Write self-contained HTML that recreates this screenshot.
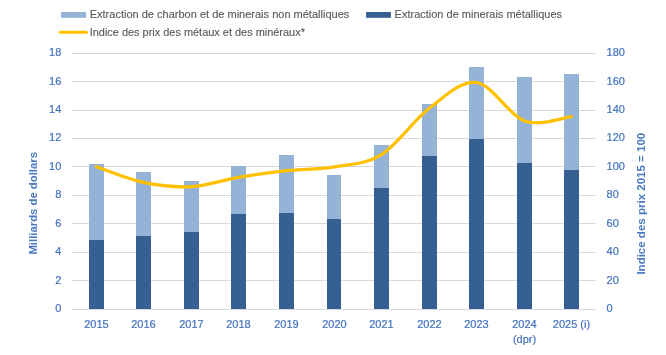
<!DOCTYPE html>
<html><head><meta charset="utf-8"><style>
html,body{margin:0;padding:0;background:#fff;width:666px;height:355px;overflow:hidden}
svg{display:block;will-change:transform}
text{font-family:"Liberation Sans",sans-serif}
.ax{font-size:11px;fill:#4271C0;stroke:#4271C0;stroke-width:0.2px}
.lg{font-size:10.3px;fill:#595959;stroke:#595959;stroke-width:0.12px}
.tt{font-size:10.6px;font-weight:bold;fill:#4A78C2}
</style></head><body>
<svg width="666" height="355" viewBox="0 0 666 355">
<rect width="666" height="355" fill="#fff"/>
<rect x="72" y="309" width="524" height="1" fill="#D9D9D9"/>
<rect x="72" y="280" width="524" height="1" fill="#D9D9D9"/>
<rect x="72" y="252" width="524" height="1" fill="#D9D9D9"/>
<rect x="72" y="223" width="524" height="1" fill="#D9D9D9"/>
<rect x="72" y="195" width="524" height="1" fill="#D9D9D9"/>
<rect x="72" y="166" width="524" height="1" fill="#D9D9D9"/>
<rect x="72" y="138" width="524" height="1" fill="#D9D9D9"/>
<rect x="72" y="110" width="524" height="1" fill="#D9D9D9"/>
<rect x="72" y="81" width="524" height="1" fill="#D9D9D9"/>
<rect x="72" y="53" width="524" height="1" fill="#D9D9D9"/>
<rect x="89" y="164" width="15" height="76" fill="#95B3D7"/>
<rect x="89" y="240" width="15" height="69" fill="#366092"/>
<rect x="136" y="172" width="15" height="64" fill="#95B3D7"/>
<rect x="136" y="236" width="15" height="73" fill="#366092"/>
<rect x="184" y="181" width="15" height="51" fill="#95B3D7"/>
<rect x="184" y="232" width="15" height="77" fill="#366092"/>
<rect x="231" y="166" width="15" height="48" fill="#95B3D7"/>
<rect x="231" y="214" width="15" height="95" fill="#366092"/>
<rect x="279" y="155" width="15" height="58" fill="#95B3D7"/>
<rect x="279" y="213" width="15" height="96" fill="#366092"/>
<rect x="327" y="175" width="14" height="44" fill="#95B3D7"/>
<rect x="327" y="219" width="14" height="90" fill="#366092"/>
<rect x="374" y="145" width="15" height="43" fill="#95B3D7"/>
<rect x="374" y="188" width="15" height="121" fill="#366092"/>
<rect x="422" y="104" width="15" height="52" fill="#95B3D7"/>
<rect x="422" y="156" width="15" height="153" fill="#366092"/>
<rect x="469" y="67" width="15" height="72" fill="#95B3D7"/>
<rect x="469" y="139" width="15" height="170" fill="#366092"/>
<rect x="517" y="77" width="15" height="86" fill="#95B3D7"/>
<rect x="517" y="163" width="15" height="146" fill="#366092"/>
<rect x="564" y="74" width="15" height="96" fill="#95B3D7"/>
<rect x="564" y="170" width="15" height="139" fill="#366092"/>
<path d="M96.50,166.70 C104.33,169.32 127.67,179.08 143.50,182.40 C159.33,185.72 175.67,187.45 191.50,186.60 C207.33,185.75 222.67,179.95 238.50,177.30 C254.33,174.65 270.50,172.45 286.50,170.70 C302.50,168.95 318.67,169.48 334.50,166.80 C350.33,164.12 365.67,164.38 381.50,154.60 C397.33,144.82 413.67,120.12 429.50,108.10 C445.33,96.08 460.67,80.37 476.50,82.50 C492.33,84.63 508.67,115.20 524.50,120.90 C540.33,126.60 563.67,117.40 571.50,116.70" fill="none" stroke="#FFC000" stroke-width="3.2" stroke-linecap="round" stroke-linejoin="round"/>
<text x="61.3" y="312.1" text-anchor="end" class="ax">0</text>
<text x="606.6" y="312.1" class="ax">0</text>
<text x="61.3" y="283.7" text-anchor="end" class="ax">2</text>
<text x="606.6" y="283.7" class="ax">20</text>
<text x="61.3" y="255.2" text-anchor="end" class="ax">4</text>
<text x="606.6" y="255.2" class="ax">40</text>
<text x="61.3" y="226.8" text-anchor="end" class="ax">6</text>
<text x="606.6" y="226.8" class="ax">60</text>
<text x="61.3" y="198.3" text-anchor="end" class="ax">8</text>
<text x="606.6" y="198.3" class="ax">80</text>
<text x="61.3" y="169.9" text-anchor="end" class="ax">10</text>
<text x="606.6" y="169.9" class="ax">100</text>
<text x="61.3" y="141.4" text-anchor="end" class="ax">12</text>
<text x="606.6" y="141.4" class="ax">120</text>
<text x="61.3" y="113.0" text-anchor="end" class="ax">14</text>
<text x="606.6" y="113.0" class="ax">140</text>
<text x="61.3" y="84.5" text-anchor="end" class="ax">16</text>
<text x="606.6" y="84.5" class="ax">160</text>
<text x="61.3" y="56.1" text-anchor="end" class="ax">18</text>
<text x="606.6" y="56.1" class="ax">180</text>
<text x="96.5" y="327.8" text-anchor="middle" class="ax">2015</text>
<text x="143.5" y="327.8" text-anchor="middle" class="ax">2016</text>
<text x="191.5" y="327.8" text-anchor="middle" class="ax">2017</text>
<text x="238.5" y="327.8" text-anchor="middle" class="ax">2018</text>
<text x="286.5" y="327.8" text-anchor="middle" class="ax">2019</text>
<text x="334.5" y="327.8" text-anchor="middle" class="ax">2020</text>
<text x="381.5" y="327.8" text-anchor="middle" class="ax">2021</text>
<text x="429.5" y="327.8" text-anchor="middle" class="ax">2022</text>
<text x="476.5" y="327.8" text-anchor="middle" class="ax">2023</text>
<text x="524.5" y="327.8" text-anchor="middle" class="ax">2024</text>
<text x="571.5" y="327.8" text-anchor="middle" class="ax">2025 (i)</text>
<text x="524.5" y="343.2" text-anchor="middle" class="ax">(dpr)</text>
<text transform="translate(37.2,254.6) rotate(-90)" class="tt" textLength="102.6" lengthAdjust="spacingAndGlyphs">Milliards de dollars</text>
<text transform="translate(645.1,274.6) rotate(-90)" class="tt" textLength="141.8" lengthAdjust="spacingAndGlyphs">Indice des prix 2015 = 100</text>
<rect x="61" y="12" width="25" height="5.8" fill="#95B3D7"/>
<text x="89.7" y="18" class="lg" textLength="259.6" lengthAdjust="spacingAndGlyphs">Extraction de charbon et de minerais non métalliques</text>
<rect x="366.1" y="12" width="24.8" height="5.8" fill="#366092"/>
<text x="394.6" y="18" class="lg" textLength="167.4" lengthAdjust="spacingAndGlyphs">Extraction de minerais métalliques</text>
<line x1="60.4" y1="32.3" x2="86.4" y2="32.3" stroke="#FFC000" stroke-width="3" stroke-linecap="round"/>
<text x="89.7" y="36" class="lg" textLength="215.2" lengthAdjust="spacingAndGlyphs">Indice des prix des métaux et des minéraux*</text>
</svg>
</body></html>
